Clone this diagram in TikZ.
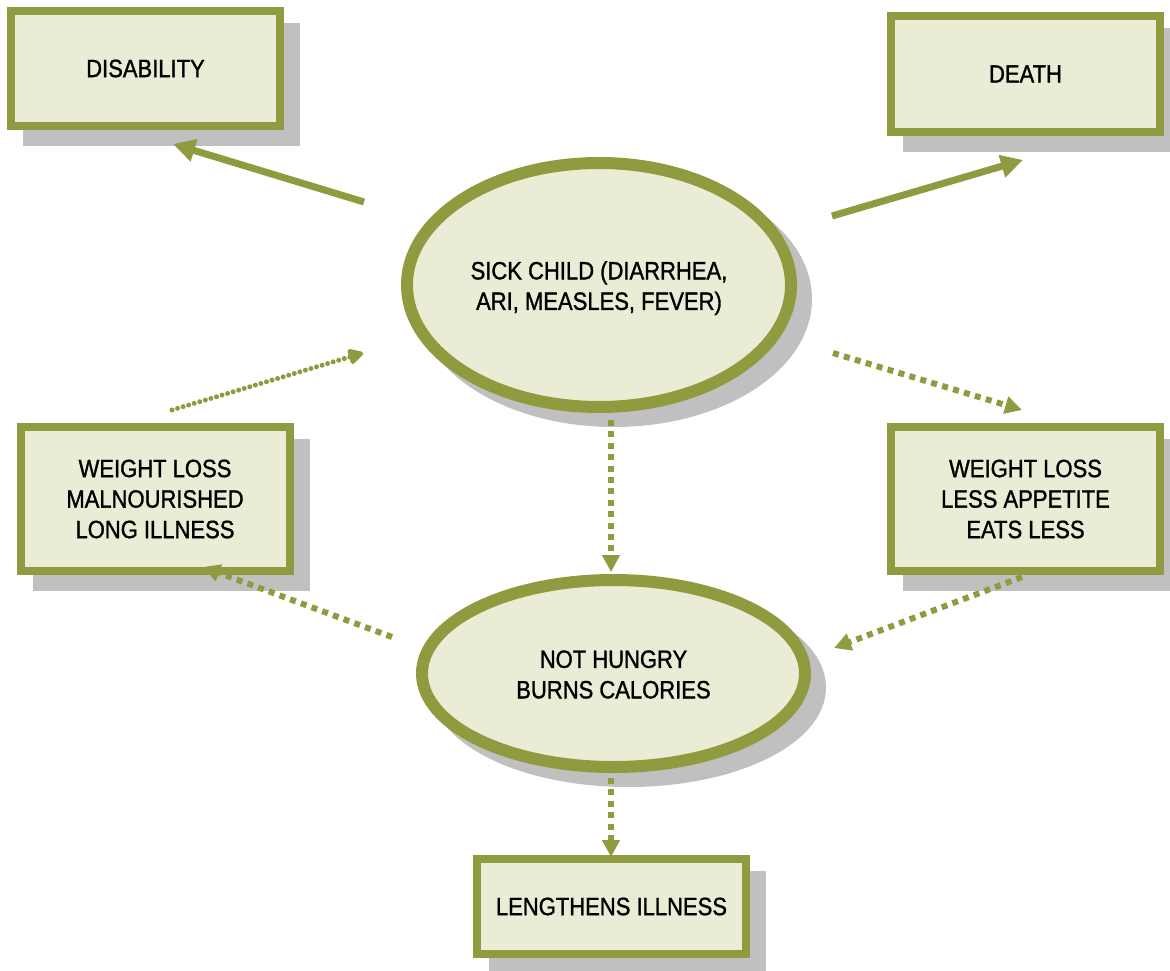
\documentclass[tikz,border=0pt]{standalone}
\usepackage{fontspec}
\setmainfont{Liberation Sans}[FakeStretch=0.88, FakeBold=1.2]
\usetikzlibrary{shapes.geometric,arrows.meta,shadows}
\definecolor{olv}{HTML}{8F9B3E}
\definecolor{boxfill}{HTML}{EAECD5}
\definecolor{shadowgray}{HTML}{C0C0C0}
\newcommand{\txtfont}{\fontsize{25}{30.5}\selectfont}
\newcommand{\lowered}[1]{\raisebox{-3.5pt}[\height][\depth]{\begin{tabular}{@{}c@{}}#1\end{tabular}}}
\begin{document}
\begin{tikzpicture}[x=1pt,y=-1pt,
  box/.style={rectangle, draw=olv, line width=8pt, fill=boxfill, minimum width=269pt,
    align=center, font=\txtfont, inner sep=0pt,
    general shadow={fill=shadowgray, draw=shadowgray, shadow xshift=16pt, shadow yshift=-16pt}},
  oval/.style={ellipse, draw=olv, line width=12pt, fill=boxfill, align=center, font=\txtfont, inner sep=0pt,
    general shadow={fill=shadowgray, draw=shadowgray, shadow xshift=15pt, shadow yshift=-14pt}},
  solidarrow/.style={draw=olv, line width=7pt, -{Triangle[length=22pt,width=22pt]}},
  sqarrow/.style={draw=olv, line width=6pt, dash pattern=on 6pt off 5.4pt, -{Triangle[length=17pt,width=17pt]}},
  rdarrow/.style={draw=olv, line width=5pt, line cap=round, dash pattern=on 0pt off 5.8pt, -{Triangle[length=17pt,width=17pt,round]}}
]
\useasboundingbox (0,0) rectangle (1170,971);

\node[box, minimum height=115pt] (dis) at (145.5,68.5) {DISABILITY};
\node[box, minimum height=116pt] (death) at (1025.5,74) {DEATH};
\node[box, minimum height=144pt] (wll) at (155,499) {WEIGHT LOSS\\MALNOURISHED\\LONG ILLNESS};
\node[box, minimum height=144pt] (wlr) at (1025.5,499) {WEIGHT LOSS\\LESS APPETITE\\EATS LESS};
\node[box, minimum height=95pt] (len) at (611.5,906.5) {LENGTHENS ILLNESS};

\node[oval, minimum width=384pt, minimum height=244pt] (sick) at (599,285) {\lowered{SICK CHILD (DIARRHEA,\\ARI, MEASLES, FEVER)}};
\node[oval, minimum width=383pt, minimum height=187pt] (hungry) at (613.5,673.5) {\lowered{NOT HUNGRY\\BURNS CALORIES}};

\coordinate (a1s) at (364,202); \coordinate (a1e) at (173,144);
\coordinate (a2s) at (832,216); \coordinate (a2e) at (1023,160);
\coordinate (a3s) at (172,410); \coordinate (a3e) at (363,353);
\coordinate (a4s) at (833,353); \coordinate (a4e) at (1022,410);
\coordinate (a5s) at (611,420); \coordinate (a5e) at (611,572);
\coordinate (a6s) at (392,637); \coordinate (a6e) at (203,567);
\coordinate (a7s) at (1022,577); \coordinate (a7e) at (834,648);
\coordinate (a8s) at (611,778); \coordinate (a8e) at (611,857);

\draw[solidarrow] (a1s) -- (a1e);
\draw[solidarrow] (a2s) -- (a2e);
\draw[rdarrow] (a3s) -- (a3e);
\draw[sqarrow] (a4s) -- (a4e);
\draw[sqarrow] (a5s) -- (a5e);
\draw[sqarrow] (a6s) -- (a6e);
\draw[sqarrow] (a7s) -- (a7e);
\draw[sqarrow] (a8s) -- (a8e);
\end{tikzpicture}
\end{document}
